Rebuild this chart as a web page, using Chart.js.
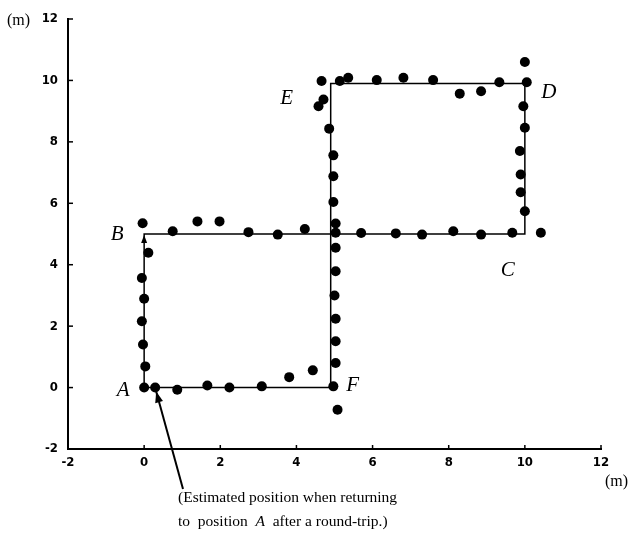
<!DOCTYPE html>
<html>
<head>
<meta charset="utf-8">
<script src="https://cdn.jsdelivr.net/npm/chart.js@4.4.1/dist/chart.umd.min.js"></script>
<style>
  html, body { margin: 0; padding: 0; background: #fff; }
  #wrap { position: relative; width: 637px; height: 542px; }
</style>
</head>
<body>
<div id="wrap"><canvas id="c" width="637" height="542"></canvas></div>
<script>
// Reference trajectory A -> B -> C -> D -> E -> F -> A (m)
const pathX = [0, 0, 10, 10, 4.9, 4.9, 0];
const pathY = [0, 5, 5, 9.9, 9.9, 0, 0];
const cornerNames = ['A', 'B', 'C', 'D', 'E', 'F'];

// Estimated positions (m)
const measX = [0.00, 0.03, -0.03, -0.06, 0.00, -0.06, 0.11, -0.04,
  0.75, 1.40, 1.98, 2.74, 3.51, 4.22, 5.03, 5.70, 6.61, 7.30, 8.12, 8.85, 9.67, 10.42,
  10.00, 9.89, 9.89, 9.87, 10.00, 9.96, 10.05, 10.00,
  9.33, 8.85, 8.29, 7.59, 6.81, 6.11, 5.36, 5.14, 4.66,
  4.71, 4.58, 4.86, 4.97, 4.97, 4.97, 5.03, 5.03, 5.03, 5.00, 5.03, 5.03, 5.03, 4.97, 5.08,
  4.43, 3.81, 3.09, 2.24, 1.66, 0.87, 0.29];
const measY = [0.00, 0.69, 1.40, 2.16, 2.89, 3.57, 4.39, 5.35,
  5.09, 5.41, 5.41, 5.06, 4.98, 5.16, 5.04, 5.03, 5.02, 4.98, 5.09, 4.98, 5.04, 5.04,
  5.74, 6.36, 6.94, 7.70, 8.46, 9.16, 9.94, 10.60,
  9.94, 9.65, 9.57, 10.01, 10.09, 10.01, 10.09, 9.98, 9.98,
  9.38, 9.16, 8.43, 7.56, 6.88, 6.04, 5.34, 4.55, 3.79, 3.00, 2.24, 1.51, 0.80, 0.04, -0.72,
  0.56, 0.34, 0.04, 0.00, 0.07, -0.07, 0.00];

// Axis ticks
const xTicks = [-2, 0, 2, 4, 6, 8, 10, 12];
const yTicks = [-2, 0, 2, 4, 6, 8, 10, 12];

const annotationLines = ['(Estimated position when returning', 'to  position  ', 'A', '  after a round-trip.)'];
const returnPointIndex = measX.length - 1;

const pathData = pathX.map((x, i) => ({ x, y: pathY[i] }));
const measData = measX.map((x, i) => ({ x, y: measY[i] }));

const SERIF = '"Liberation Serif", "DejaVu Serif", serif';
const TICKFONT = '"Liberation Sans Narrow", "DejaVu Sans Condensed", "Liberation Sans", sans-serif';

const labelOffsets = { A: [-21, 3], B: [-27, 0], C: [-17, 36], D: [24, 9], E: [-44, 15], F: [22, -2] };

const extras = {
  id: 'extras',
  afterDraw(chart) {
    const ctx = chart.ctx;
    const xs = chart.scales.x, ys = chart.scales.y;
    const ca = chart.chartArea;
    ctx.save();
    // inward ticks
    ctx.strokeStyle = '#000';
    ctx.lineWidth = 1.5;
    xTicks.forEach(v => {
      const px = xs.getPixelForValue(v);
      ctx.beginPath(); ctx.moveTo(px, ca.bottom); ctx.lineTo(px, ca.bottom - 4); ctx.stroke();
    });
    yTicks.forEach(v => {
      const py = ys.getPixelForValue(v);
      ctx.beginPath(); ctx.moveTo(ca.left, py); ctx.lineTo(ca.left + 5, py); ctx.stroke();
    });
    // arrowhead at B on A->B segment
    const bx = xs.getPixelForValue(pathX[1]), by = ys.getPixelForValue(pathY[1]);
    ctx.fillStyle = '#000';
    ctx.beginPath();
    ctx.moveTo(bx, by + 1);
    ctx.lineTo(bx - 3, by + 9);
    ctx.lineTo(bx + 3, by + 9);
    ctx.closePath(); ctx.fill();
    // corner labels
    ctx.font = 'italic 21px ' + SERIF;
    ctx.textAlign = 'center'; ctx.textBaseline = 'middle';
    cornerNames.forEach((n, i) => {
      const px = xs.getPixelForValue(pathX[i]);
      const py = ys.getPixelForValue(pathY[i]);
      const o = labelOffsets[n];
      ctx.fillText(n, px + o[0], py + o[1]);
    });
    // unit labels
    ctx.font = '16px ' + SERIF;
    ctx.textAlign = 'left';
    ctx.fillText('(m)', 7, 21);
    ctx.fillText('(m)', 605, 482);
    // annotation text
    const fs = '15.5px ';
    ctx.font = fs + SERIF;
    ctx.textAlign = 'left';
    ctx.fillText(annotationLines[0], 178, 498);
    ctx.fillText(annotationLines[1], 178, 522);
    let w = ctx.measureText(annotationLines[1]).width;
    ctx.font = 'italic ' + fs + SERIF;
    ctx.fillText(annotationLines[2], 178 + w, 522);
    w += ctx.measureText(annotationLines[2]).width;
    ctx.font = fs + SERIF;
    ctx.fillText(annotationLines[3], 178 + w, 522);
    // annotation arrow
    const tx = xs.getPixelForValue(measX[returnPointIndex]) + 1;
    const ty = ys.getPixelForValue(measY[returnPointIndex]) + 4;
    const sx = 183, sy = 489;
    ctx.lineWidth = 2;
    ctx.beginPath(); ctx.moveTo(sx, sy); ctx.lineTo(tx, ty); ctx.stroke();
    const ang = Math.atan2(ty - sy, tx - sx);
    ctx.beginPath();
    ctx.moveTo(tx, ty);
    ctx.lineTo(tx - 11 * Math.cos(ang) + 4 * Math.sin(ang), ty - 11 * Math.sin(ang) - 4 * Math.cos(ang));
    ctx.lineTo(tx - 11 * Math.cos(ang) - 4 * Math.sin(ang), ty - 11 * Math.sin(ang) + 4 * Math.cos(ang));
    ctx.closePath(); ctx.fill();
    ctx.restore();
  }
};

new Chart(document.getElementById('c'), {
  type: 'scatter',
  data: {
    datasets: [
      {
        label: 'Estimated',
        data: measData,
        pointStyle: 'circle',
        pointRadius: 5,
        backgroundColor: '#000',
        borderColor: '#000',
        borderWidth: 0,
        showLine: false,
        order: 0
      },
      {
        label: 'Path',
        data: pathData,
        showLine: true,
        pointRadius: 0,
        borderColor: '#000',
        borderWidth: 1.5,
        tension: 0,
        fill: false,
        order: 1
      }
    ]
  },
  options: {
    responsive: false,
    animation: false,
    devicePixelRatio: 1,
    layout: { padding: { left: 0, top: 19, right: 36, bottom: 0 } },
    plugins: { legend: { display: false }, tooltip: { enabled: false } },
    scales: {
      x: {
        type: 'linear', min: -2, max: 12,
        afterFit(s) { s.height = 93; },
        afterBuildTicks(s) { s.ticks = xTicks.map(v => ({ value: v })); },
        grid: { drawOnChartArea: false, drawTicks: false },
        border: { display: true, color: '#000', width: 2 },
        ticks: { color: '#000', padding: 6, font: { family: TICKFONT, size: 13, weight: 'bold' }, maxRotation: 0 }
      },
      y: {
        type: 'linear', min: -2, max: 12,
        afterFit(s) { s.width = 68; },
        afterBuildTicks(s) { s.ticks = yTicks.map(v => ({ value: v })); },
        grid: { drawOnChartArea: false, drawTicks: false },
        border: { display: true, color: '#000', width: 2 },
        ticks: { color: '#000', padding: 10, font: { family: TICKFONT, size: 13, weight: 'bold' } }
      }
    }
  },
  plugins: [extras]
});
</script>
</body>
</html>
